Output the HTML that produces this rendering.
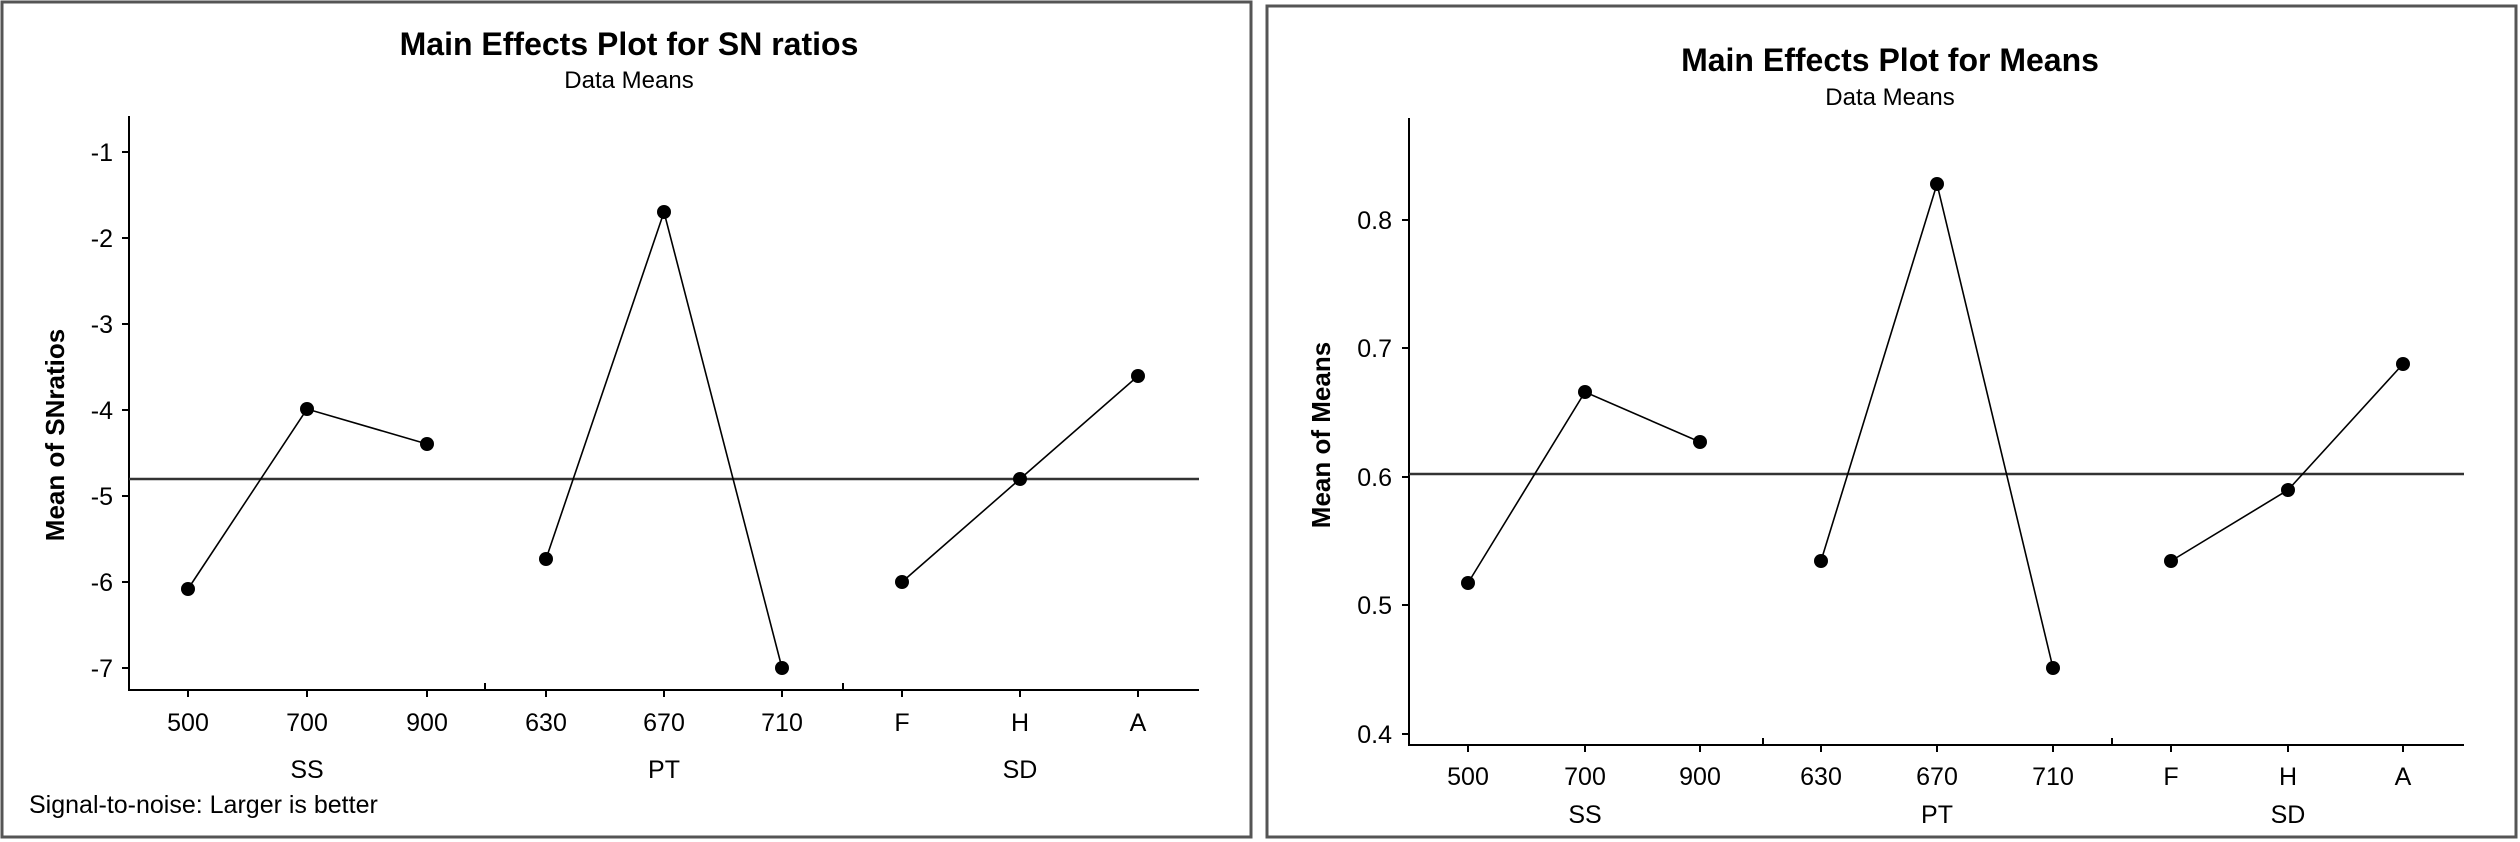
<!DOCTYPE html>
<html><head><meta charset="utf-8"><style>
html,body{margin:0;padding:0;background:#fff;}
svg{display:block;font-family:"Liberation Sans",sans-serif;}
</style></head><body>
<svg width="2520" height="842" viewBox="0 0 2520 842" xmlns="http://www.w3.org/2000/svg">
<rect x="0" y="0" width="2520" height="842" fill="#fff"/>
<!-- Left panel -->
<rect x="2" y="2" width="1249" height="835" fill="none" stroke="#555" stroke-width="3"/>
<text x="629" y="55" text-anchor="middle" font-size="32" font-weight="bold">Main Effects Plot for SN ratios</text>
<text x="629" y="88" text-anchor="middle" font-size="24">Data Means</text>
<g stroke="#000" stroke-width="2" fill="none">
<line x1="129" y1="116" x2="129" y2="691"/>
<line x1="128" y1="690" x2="1199" y2="690"/>
<line x1="129" y1="152" x2="122" y2="152"/><line x1="129" y1="238" x2="122" y2="238"/>
<line x1="129" y1="324" x2="122" y2="324"/><line x1="129" y1="410" x2="122" y2="410"/>
<line x1="129" y1="496" x2="122" y2="496"/><line x1="129" y1="582" x2="122" y2="582"/>
<line x1="129" y1="668" x2="122" y2="668"/>
<line x1="485" y1="690" x2="485" y2="683"/><line x1="843" y1="690" x2="843" y2="683"/>
<line x1="188" y1="690" x2="188" y2="697"/><line x1="307" y1="690" x2="307" y2="697"/><line x1="427" y1="690" x2="427" y2="697"/>
<line x1="546" y1="690" x2="546" y2="697"/><line x1="664" y1="690" x2="664" y2="697"/><line x1="782" y1="690" x2="782" y2="697"/>
<line x1="902" y1="690" x2="902" y2="697"/><line x1="1020" y1="690" x2="1020" y2="697"/><line x1="1138" y1="690" x2="1138" y2="697"/>
</g>
<line x1="129" y1="479" x2="1199" y2="479" stroke="#333" stroke-width="2.5"/>
<g stroke="#000" stroke-width="1.6" fill="none">
<polyline points="188,589 307,409 427,444"/>
<polyline points="546,559 664,212 782,668"/>
<polyline points="902,582 1020,479 1138,376"/>
</g>
<g fill="#000">
<circle cx="188" cy="589" r="7"/><circle cx="307" cy="409" r="7"/><circle cx="427" cy="444" r="7"/>
<circle cx="546" cy="559" r="7"/><circle cx="664" cy="212" r="7"/><circle cx="782" cy="668" r="7"/>
<circle cx="902" cy="582" r="7"/><circle cx="1020" cy="479" r="7"/><circle cx="1138" cy="376" r="7"/>
</g>
<g font-size="25" text-anchor="end">
<text x="113" y="161">-1</text><text x="113" y="247">-2</text><text x="113" y="333">-3</text>
<text x="113" y="419">-4</text><text x="113" y="505">-5</text><text x="113" y="591">-6</text><text x="113" y="677">-7</text>
</g>
<g font-size="25" text-anchor="middle">
<text x="188" y="731">500</text><text x="307" y="731">700</text><text x="427" y="731">900</text>
<text x="546" y="731">630</text><text x="664" y="731">670</text><text x="782" y="731">710</text>
<text x="902" y="731">F</text><text x="1020" y="731">H</text><text x="1138" y="731">A</text>
<text x="307" y="778">SS</text><text x="664" y="778">PT</text><text x="1020" y="778">SD</text>
</g>
<text x="29" y="813" font-size="25">Signal-to-noise: Larger is better</text>
<text transform="translate(64,435) rotate(-90)" text-anchor="middle" font-size="26" font-weight="bold">Mean of SNratios</text>

<!-- Right panel -->
<rect x="1267" y="6" width="1249" height="831" fill="none" stroke="#555" stroke-width="3"/>
<text x="1890" y="71" text-anchor="middle" font-size="32" font-weight="bold">Main Effects Plot for Means</text>
<text x="1890" y="105" text-anchor="middle" font-size="24">Data Means</text>
<g stroke="#000" stroke-width="2" fill="none">
<line x1="1409" y1="118" x2="1409" y2="746"/>
<line x1="1408" y1="745" x2="2464" y2="745"/>
<line x1="1409" y1="220" x2="1402" y2="220"/><line x1="1409" y1="348" x2="1402" y2="348"/>
<line x1="1409" y1="477" x2="1402" y2="477"/><line x1="1409" y1="605" x2="1402" y2="605"/>
<line x1="1409" y1="734" x2="1402" y2="734"/>
<line x1="1763" y1="745" x2="1763" y2="738"/><line x1="2112" y1="745" x2="2112" y2="738"/>
<line x1="1468" y1="745" x2="1468" y2="752"/><line x1="1585" y1="745" x2="1585" y2="752"/><line x1="1700" y1="745" x2="1700" y2="752"/>
<line x1="1821" y1="745" x2="1821" y2="752"/><line x1="1937" y1="745" x2="1937" y2="752"/><line x1="2053" y1="745" x2="2053" y2="752"/>
<line x1="2171" y1="745" x2="2171" y2="752"/><line x1="2288" y1="745" x2="2288" y2="752"/><line x1="2403" y1="745" x2="2403" y2="752"/>
</g>
<line x1="1409" y1="474" x2="2464" y2="474" stroke="#333" stroke-width="2.5"/>
<g stroke="#000" stroke-width="1.6" fill="none">
<polyline points="1468,583 1585,392 1700,442"/>
<polyline points="1821,561 1937,184 2053,668"/>
<polyline points="2171,561 2288,490 2403,364"/>
</g>
<g fill="#000">
<circle cx="1468" cy="583" r="7"/><circle cx="1585" cy="392" r="7"/><circle cx="1700" cy="442" r="7"/>
<circle cx="1821" cy="561" r="7"/><circle cx="1937" cy="184" r="7"/><circle cx="2053" cy="668" r="7"/>
<circle cx="2171" cy="561" r="7"/><circle cx="2288" cy="490" r="7"/><circle cx="2403" cy="364" r="7"/>
</g>
<g font-size="25" text-anchor="end">
<text x="1392" y="229">0.8</text><text x="1392" y="357">0.7</text><text x="1392" y="486">0.6</text>
<text x="1392" y="614">0.5</text><text x="1392" y="743">0.4</text>
</g>
<g font-size="25" text-anchor="middle">
<text x="1468" y="785">500</text><text x="1585" y="785">700</text><text x="1700" y="785">900</text>
<text x="1821" y="785">630</text><text x="1937" y="785">670</text><text x="2053" y="785">710</text>
<text x="2171" y="785">F</text><text x="2288" y="785">H</text><text x="2403" y="785">A</text>
<text x="1585" y="823">SS</text><text x="1937" y="823">PT</text><text x="2288" y="823">SD</text>
</g>
<text transform="translate(1330,435) rotate(-90)" text-anchor="middle" font-size="26" font-weight="bold">Mean of Means</text>
</svg>
</body></html>
